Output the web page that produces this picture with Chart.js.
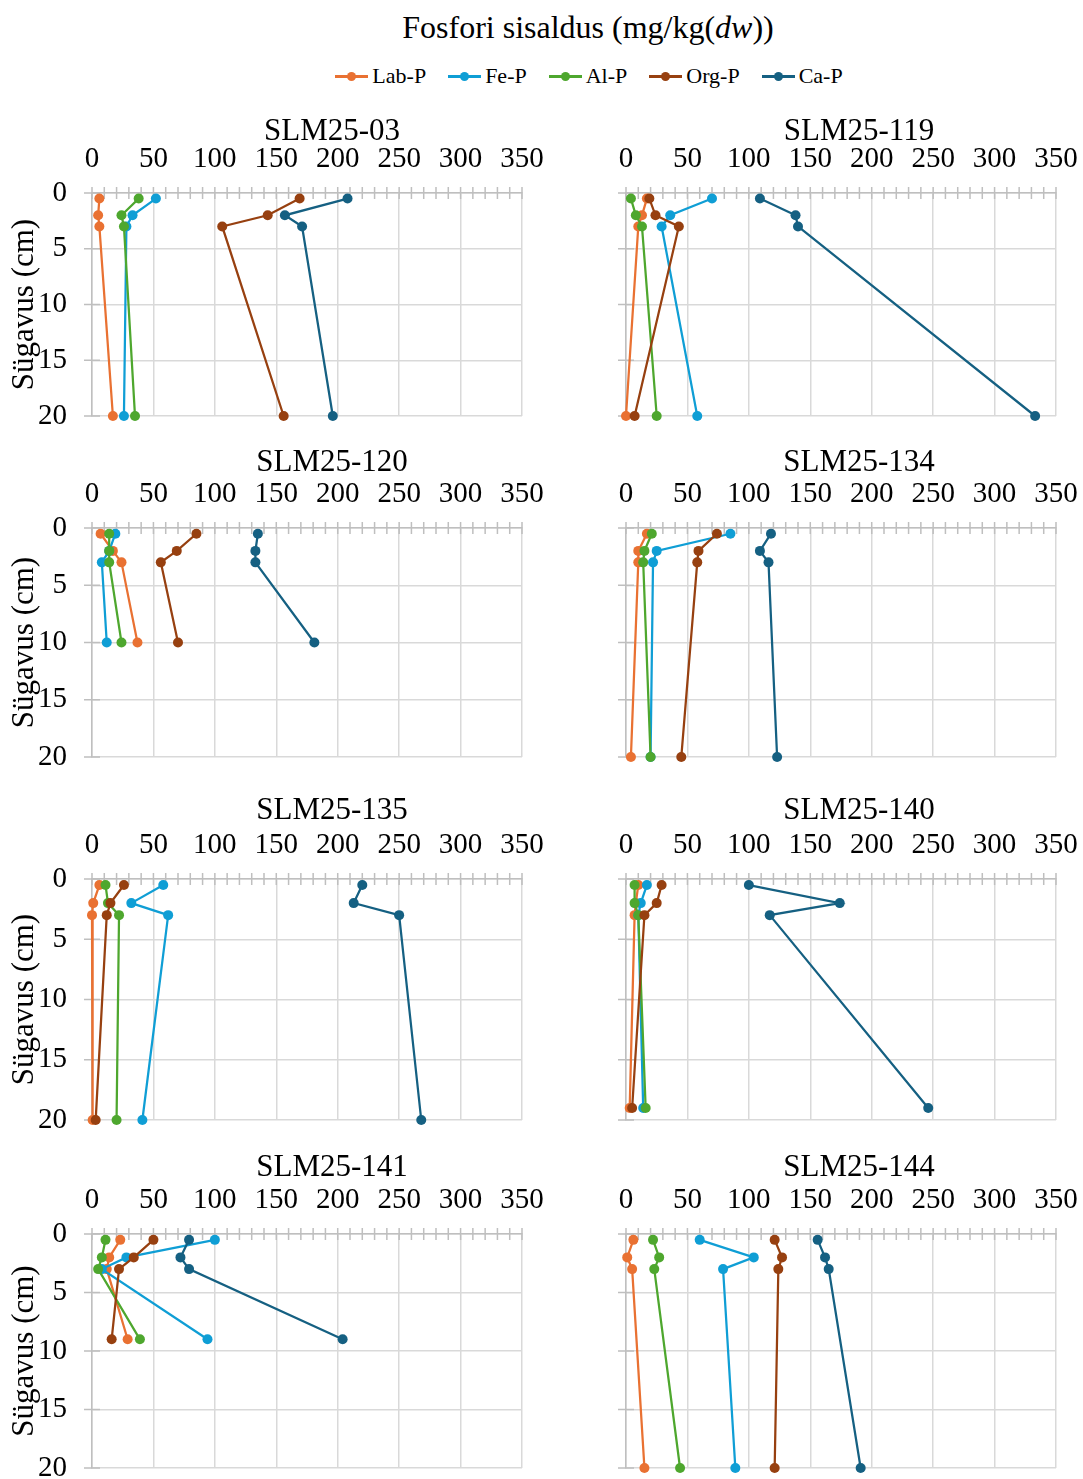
<!DOCTYPE html>
<html>
<head>
<meta charset="utf-8">
<script src="https://cdn.jsdelivr.net/npm/chart.js@4.4.1/dist/chart.umd.min.js"></script>
<style>
  html, body { margin: 0; padding: 0; background: #fff; }
  body { width: 1083px; height: 1479px; position: relative; overflow: hidden;
         font-family: "Liberation Serif", "Times New Roman", serif; color: #000; }
  #mainTitle { position: absolute; left: 0; top: 8px; width: 1176px; text-align: center;
               font-size: 32px; line-height: 38px; white-space: nowrap; }
  #legend { position: absolute; left: 0; top: 61px; width: 1178px; height: 30px;
            display: flex; justify-content: center; align-items: center; gap: 22px;
            font-size: 22px; white-space: nowrap; }
  #legend .item { display: flex; align-items: center; }
  #legend .mark { display: inline-block; position: relative; width: 33px; height: 3px;
                  margin-right: 4px; background: var(--c); }
  #legend .mark::after { content: ''; position: absolute; left: 12px; top: -3px;
                         width: 9px; height: 9px; border-radius: 50%; background: var(--c); }
  canvas { position: absolute; }
</style>
</head>
<body>
<div id="mainTitle">Fosfori sisaldus (mg/kg(<i>dw</i>))</div>
<div id="legend"></div>

<script>
// proovipunktid ja sügavused (cm)
const panelNames = ['SLM25-03', 'SLM25-119', 'SLM25-120', 'SLM25-134',
                    'SLM25-135', 'SLM25-140', 'SLM25-141', 'SLM25-144'];
const panelDepths = [
    [0.5, 2, 3, 20], [0.5, 2, 3, 20], [0.5, 2, 3, 10], [0.5, 2, 3, 20],
    [0.5, 2, 3, 20], [0.5, 2, 3, 19], [0.5, 2, 3, 9], [0.5, 2, 3, 20]
];

// fosfori fraktsioonid, mg/kg(dw), iga proovipunkti kohta
const labP = [[6, 5, 6, 17], [17, 13, 10, 0], [7, 17, 24, 37], [17, 10, 10, 4],
              [6, 1, 0, 0.5], [10, 8, 7, 3], [23, 14, 12, 29], [6, 1, 5, 15]];
const feP = [[52, 33, 28, 26], [70, 36, 29, 58], [19, 14, 8, 12], [85, 25, 22, 20],
             [58, 32, 62, 41], [17, 12, 10, 14], [100, 28, 8, 94], [60, 104, 79, 89]];
const alP = [[38, 24, 26, 35], [4, 8, 13, 25], [14, 14, 14, 24], [21, 15, 14, 20],
             [11, 13, 22, 20], [7, 7, 10, 16], [11, 8, 5, 39], [22, 27, 23, 44]];
const orgP = [[169, 143, 106, 156], [19, 24, 43, 7], [85, 69, 56, 70], [74, 59, 58, 45],
              [26, 15, 12, 3], [29, 25, 15, 5], [50, 34, 22, 16], [121, 127, 124, 121]];
const caP = [[208, 157, 171, 196], [109, 138, 140, 333], [135, 133, 133, 181], [118, 109, 116, 123],
             [220, 213, 250, 268], [100, 174, 117, 246], [79, 72, 79, 204], [156, 162, 165, 191]];

const seriesNames = ['Lab-P', 'Fe-P', 'Al-P', 'Org-P', 'Ca-P'];
const seriesValues = [labP, feP, alP, orgP, caP];
const seriesColors = ['#E97132', '#0F9ED5', '#4EA72E', '#974010', '#156082'];

const xTickValues = [0, 50, 100, 150, 200, 250, 300, 350];
const yTickValues = [0, 5, 10, 15, 20];

// paigutus (px)
const colPlotLeft = [92, 626];
const colAxisWidth = [92, 30];
const colTitleShift = [25, 18];
const rowPlotTop = [193, 528, 879, 1234];
const rowPlotBottom = [416, 757, 1120, 1468];
const rowTitleGap = [61, 65, 68, 66];
const plotWidth = 430;
const xAxisHeight = 45;
const padTop = 50, padRight = 44, padBottom = 46;

const SERIF = '"Liberation Serif", "Times New Roman", serif';
Chart.defaults.font.family = SERIF;
Chart.defaults.color = '#000';

// legend
const legendBox = document.getElementById('legend');
seriesNames.forEach((name, s) => {
    const item = document.createElement('span');
    item.className = 'item';
    const mark = document.createElement('span');
    mark.className = 'mark';
    mark.style.setProperty('--c', seriesColors[s]);
    item.appendChild(mark);
    item.appendChild(document.createTextNode(name));
    legendBox.appendChild(item);
});

const panelTitle = {
    id: 'panelTitle',
    afterDraw(chart, args, opts) {
        const { ctx, chartArea } = chart;
        ctx.save();
        ctx.font = '31px ' + SERIF;
        ctx.fillStyle = '#000';
        ctx.textAlign = 'center';
        ctx.textBaseline = 'middle';
        ctx.fillText(opts.text, (chartArea.left + chartArea.right) / 2 + opts.dx, chartArea.top - opts.gap);
        ctx.restore();
    }
};

// väikesed jaotised telgedel (iga 10 ühikut x-teljel)
const axisMarks = {
    id: 'axisMarks',
    beforeDatasetsDraw(chart) {
        const { ctx, chartArea, scales } = chart;
        ctx.save();
        ctx.strokeStyle = '#bfbfbf';
        ctx.lineWidth = 1.5;
        ctx.beginPath();
        for (let v = 0; v <= 350; v += 10) {
            const x = scales.x.getPixelForValue(v);
            ctx.moveTo(x, chartArea.top - 6);
            ctx.lineTo(x, chartArea.top + 6);
        }
        yTickValues.forEach(v => {
            const y = scales.y.getPixelForValue(v);
            ctx.moveTo(chartArea.left - 8, y);
            ctx.lineTo(chartArea.left + 8, y);
        });
        ctx.stroke();
        ctx.restore();
    }
};

function createPanel(p) {
    const col = p % 2;
    const row = Math.floor(p / 2);
    const plotTop = rowPlotTop[row];
    const plotBottom = rowPlotBottom[row];

    const canvas = document.createElement('canvas');
    const width = colAxisWidth[col] + plotWidth + padRight;
    const height = padTop + xAxisHeight + (plotBottom - plotTop) + padBottom;
    canvas.width = width;
    canvas.height = height;
    canvas.style.width = width + 'px';
    canvas.style.height = height + 'px';
    canvas.style.left = (colPlotLeft[col] - colAxisWidth[col]) + 'px';
    canvas.style.top = (plotTop - xAxisHeight - padTop) + 'px';
    document.body.appendChild(canvas);

    const datasets = seriesNames.map((name, s) => ({
        label: name,
        data: panelDepths[p].map((d, k) => ({ x: seriesValues[s][p][k], y: d })),
        showLine: true,
        borderColor: seriesColors[s],
        backgroundColor: seriesColors[s],
        borderWidth: 2.25,
        pointRadius: 5,
        pointBorderWidth: 0,
        pointHoverRadius: 5,
        clip: false,
        order: seriesNames.length - s
    }));

    new Chart(canvas, {
        type: 'scatter',
        data: { datasets: datasets },
        plugins: [panelTitle, axisMarks],
        options: {
            responsive: false,
            animation: false,
            devicePixelRatio: 1,
            layout: { padding: { top: padTop, right: padRight, bottom: padBottom, left: 0 } },
            plugins: {
                legend: { display: false },
                tooltip: { enabled: false },
                panelTitle: { text: panelNames[p], dx: colTitleShift[col], gap: rowTitleGap[row] }
            },
            scales: {
                x: {
                    type: 'linear',
                    position: 'top',
                    min: 0,
                    max: 350,
                    afterBuildTicks: scale => { scale.ticks = xTickValues.map(v => ({ value: v })); },
                    afterFit: scale => { scale.height = xAxisHeight; },
                    ticks: { font: { size: 29 }, color: '#000', padding: 16, maxRotation: 0, autoSkip: false },
                    grid: { color: '#d9d9d9', lineWidth: 1.5, drawTicks: false },
                    border: { color: '#bfbfbf', width: 1.5 }
                },
                y: {
                    type: 'linear',
                    reverse: true,
                    min: 0,
                    max: 20,
                    afterBuildTicks: scale => { scale.ticks = yTickValues.map(v => ({ value: v })); },
                    afterFit: scale => { scale.width = colAxisWidth[col]; },
                    ticks: { display: col === 0, font: { size: 29 }, color: '#000', padding: 25 },
                    grid: { color: '#d9d9d9', lineWidth: 1.5, drawTicks: false },
                    border: { color: '#bfbfbf', width: 1.5 },
                    title: {
                        display: col === 0,
                        text: 'Sügavus (cm)',
                        font: { size: 31 },
                        color: '#000',
                        padding: { top: 6, bottom: 0 }
                    }
                }
            }
        }
    });
}

panelNames.forEach((name, p) => createPanel(p));
</script>
</body>
</html>
